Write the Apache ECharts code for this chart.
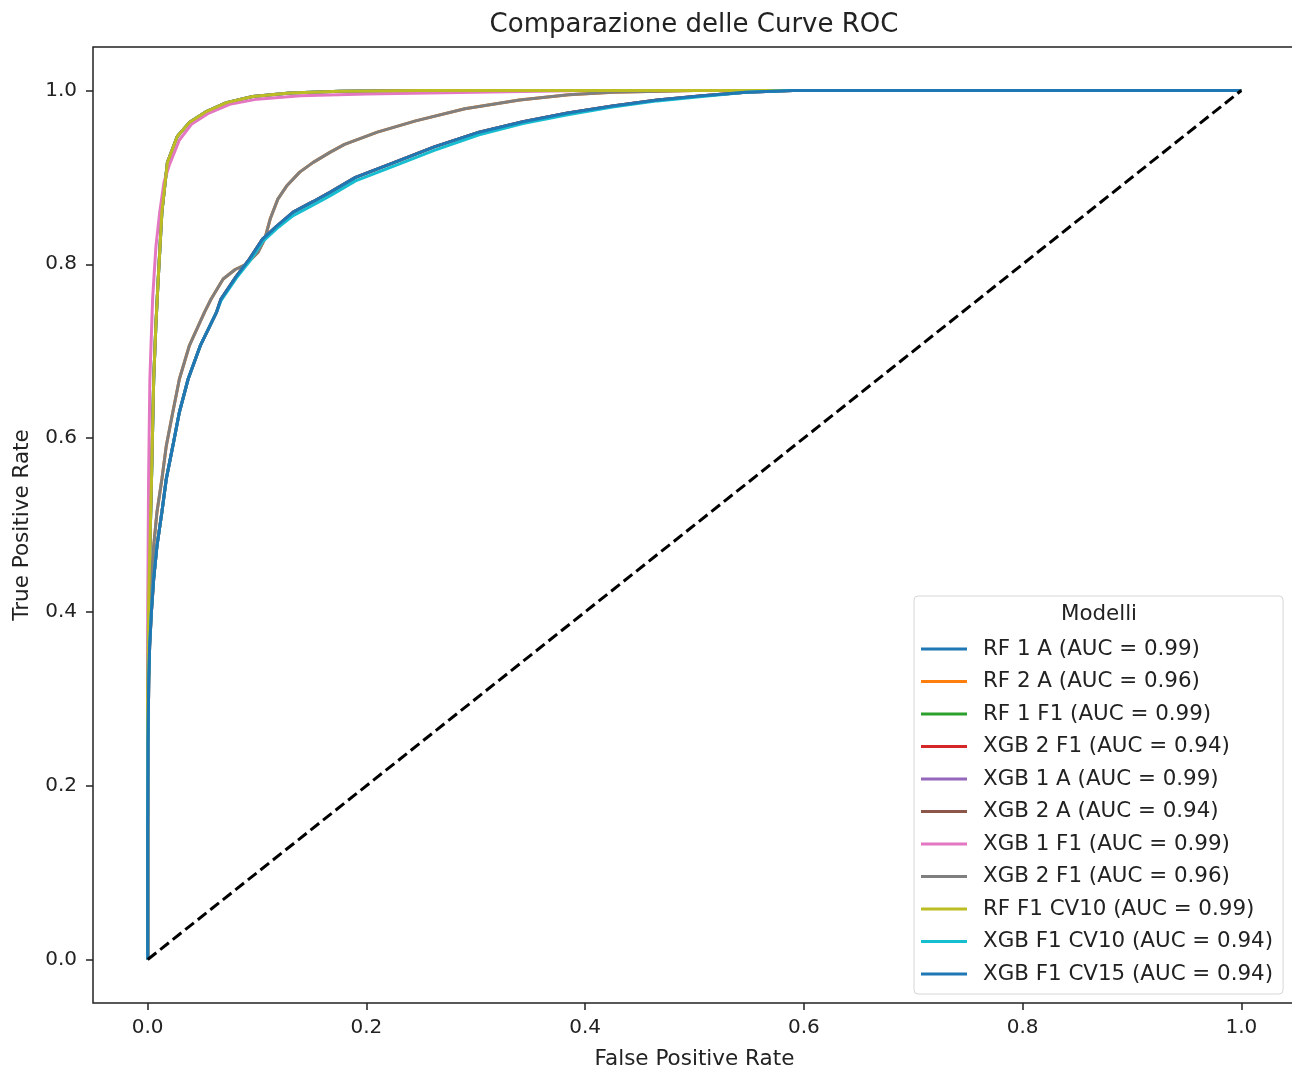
<!DOCTYPE html>
<html>
<head>
<meta charset="utf-8">
<title>Comparazione delle Curve ROC</title>
<script src="https://cdn.jsdelivr.net/npm/echarts@6/dist/echarts.min.js"></script>
<style>
  html, body { margin: 0; padding: 0; background: #fff; }
  #roc { width: 1292px; height: 1068px; }
</style>
</head>
<body>
<div id="roc"></div>
<script>
// 刻度
const tickVals = [0, 0.2, 0.4, 0.6, 0.8, 1.0]

// 模型名称 (图例顺序)
const modelNames = [
  "RF 1 A (AUC = 0.99)",
  "RF 2 A (AUC = 0.96)",
  "RF 1 F1 (AUC = 0.99)",
  "XGB 2 F1 (AUC = 0.94)",
  "XGB 1 A (AUC = 0.99)",
  "XGB 2 A (AUC = 0.94)",
  "XGB 1 F1 (AUC = 0.99)",
  "XGB 2 F1 (AUC = 0.96)",
  "RF F1 CV10 (AUC = 0.99)",
  "XGB F1 CV10 (AUC = 0.94)",
  "XGB F1 CV15 (AUC = 0.94)",
]

// ROC 曲线 - AUC 0.99 组
const topFpr = [0, 0, 0.001, 0.0025, 0.0035, 0.0055, 0.0075, 0.0095, 0.013, 0.018, 0.027, 0.038, 0.054, 0.072, 0.096, 0.13, 0.176, 0.25, 1.0]
const topTpr = [0, 0.30, 0.42, 0.50, 0.553, 0.668, 0.73, 0.78, 0.86, 0.917, 0.947, 0.963, 0.976, 0.986, 0.993, 0.997, 0.999, 1.0, 1.0]

// XGB 1 F1
const pinkFpr = [0, 0, 0.0008, 0.002, 0.0045, 0.0075, 0.011, 0.015, 0.02, 0.029, 0.04, 0.056, 0.075, 0.1, 0.14, 0.2, 0.3, 0.4, 1.0]
const pinkTpr = [0, 0.40, 0.55, 0.668, 0.76, 0.82, 0.86, 0.895, 0.915, 0.943, 0.961, 0.974, 0.984, 0.99, 0.994, 0.996, 0.998, 1.0, 1.0]

// AUC 0.96 组
const midFpr = [0, 0, 0.0003, 0.001, 0.0018, 0.0034, 0.0055, 0.0085, 0.013, 0.017, 0.023, 0.029, 0.038, 0.052, 0.058, 0.069, 0.080, 0.090, 0.101, 0.107, 0.112, 0.119, 0.127, 0.139, 0.151, 0.167, 0.18, 0.21, 0.245, 0.29, 0.34, 0.385, 0.425, 0.5, 1.0]
const midTpr = [0, 0.25, 0.323, 0.361, 0.40, 0.438, 0.476, 0.515, 0.553, 0.591, 0.63, 0.668, 0.706, 0.745, 0.76, 0.783, 0.794, 0.80, 0.814, 0.829, 0.852, 0.875, 0.89, 0.906, 0.917, 0.929, 0.938, 0.952, 0.965, 0.979, 0.989, 0.995, 0.998, 1.0, 1.0]

// AUC 0.94 组
const lowFpr = [0, 0, 0.0003, 0.001, 0.0018, 0.0034, 0.0055, 0.0085, 0.013, 0.017, 0.023, 0.029, 0.037, 0.048, 0.063, 0.067, 0.081, 0.093, 0.105, 0.118, 0.133, 0.151, 0.167, 0.19, 0.225, 0.262, 0.303, 0.343, 0.384, 0.425, 0.466, 0.507, 0.547, 0.59, 1.0]
const lowTpr = [0, 0.15, 0.25, 0.323, 0.361, 0.40, 0.438, 0.476, 0.515, 0.553, 0.591, 0.63, 0.668, 0.706, 0.745, 0.76, 0.786, 0.806, 0.829, 0.844, 0.86, 0.872, 0.883, 0.9, 0.917, 0.935, 0.952, 0.964, 0.974, 0.982, 0.989, 0.994, 0.998, 1.0, 1.0]

// XGB F1 CV10
const cyanFpr = [0, 0, 0.0003, 0.001, 0.0018, 0.0034, 0.0055, 0.0085, 0.013, 0.017, 0.023, 0.029, 0.037, 0.048, 0.063, 0.067, 0.081, 0.093, 0.105, 0.118, 0.133, 0.151, 0.167, 0.19, 0.225, 0.262, 0.303, 0.343, 0.384, 0.425, 0.466, 0.507, 0.547, 0.59, 1.0]
const cyanTpr = [0, 0.15, 0.25, 0.323, 0.361, 0.40, 0.438, 0.476, 0.515, 0.553, 0.591, 0.63, 0.668, 0.706, 0.745, 0.758, 0.784, 0.803, 0.826, 0.841, 0.856, 0.868, 0.879, 0.896, 0.913, 0.931, 0.949, 0.962, 0.972, 0.981, 0.988, 0.993, 0.998, 1.0, 1.0]

// 随机分类器对角线
const diagFpr = [0, 1]
const diagTpr = [0, 1]

// 每个模型用哪条曲线
const curves = {
  top: [topFpr, topTpr],
  pink: [pinkFpr, pinkTpr],
  mid: [midFpr, midTpr],
  low: [lowFpr, lowTpr],
  cyan: [cyanFpr, cyanTpr],
}
const modelCurve = ["top", "mid", "top", "low", "top", "low", "pink", "mid", "top", "cyan", "low"]

// matplotlib tab10
const colors = ["#1f77b4", "#ff7f0e", "#2ca02c", "#d62728", "#9467bd", "#8c564b", "#e377c2", "#7f7f7f", "#bcbd22", "#17becf", "#1f77b4"]

const font = "DejaVu Sans"
const ink = "#222"

function pairs(xs, ys) {
  return xs.map((x, i) => [x, ys[i]])
}

const series = modelNames.map((name, i) => {
  const c = curves[modelCurve[i]]
  return {
    name: name,
    type: "line",
    data: pairs(c[0], c[1]),
    showSymbol: false,
    symbol: "none",
    color: colors[i],
    lineStyle: { width: 3, color: colors[i] },
    animation: false,
  }
})
series.push({
  type: "line",
  data: pairs(diagFpr, diagTpr),
  showSymbol: false,
  symbol: "none",
  lineStyle: { width: 3, color: "#000", type: [11, 5] },
  animation: false,
})

const chart = echarts.init(document.getElementById("roc"))

const axisCommon = {
  type: "value",
  min: -0.05,
  max: 1.05,
  nameLocation: "middle",
  nameTextStyle: { fontFamily: font, fontSize: 21.5, color: ink },
  axisLine: { show: false, onZero: false },
  axisTick: {
    show: true,
    inside: false,
    customValues: tickVals,
    length: 7,
    lineStyle: { color: "#222", width: 1.5 },
  },
  axisLabel: {
    customValues: tickVals,
    fontFamily: font,
    fontSize: 20,
    color: ink,
    formatter: (v) => v.toFixed(1),
  },
  splitLine: { show: false },
}

const option = {
  backgroundColor: "#fff",
  animation: false,
  grid: {
    left: 93,
    top: 47,
    width: 1203,
    height: 956,
    outerBoundsMode: "none",
    containLabel: false,
    show: true,
    borderColor: "#222",
    borderWidth: 1.5,
    backgroundColor: "transparent",
  },
  xAxis: Object.assign({}, axisCommon, {
    name: "False Positive Rate",
    nameGap: 45,
    axisLabel: Object.assign({}, axisCommon.axisLabel, { margin: 15 }),
  }),
  yAxis: Object.assign({}, axisCommon, {
    name: "True Positive Rate",
    nameGap: 60,
    axisLabel: Object.assign({}, axisCommon.axisLabel, { margin: 16 }),
  }),
  legend: {
    orient: "vertical",
    left: 914,
    top: 596,
    data: modelNames,
    icon: "rect",
    itemWidth: 46,
    itemHeight: 3,
    itemGap: 10.5,
    padding: [42, 10, 9, 7],
    backgroundColor: "rgba(255,255,255,0.85)",
    borderColor: "#d6d6d6",
    borderWidth: 1,
    borderRadius: 4,
    selectedMode: false,
    textStyle: {
      fontFamily: font,
      fontSize: 21.4,
      color: ink,
      lineHeight: 22,
      padding: [0, 0, 0, 11],
    },
  },
  graphic: [
    {
      type: "text",
      z: 100,
      style: {
        x: 694,
        y: 25,
        text: "Comparazione delle Curve ROC",
        fontFamily: font,
        fontSize: 26,
        fill: ink,
        textAlign: "center",
        textVerticalAlign: "middle",
      },
    },
    {
      type: "text",
      z: 100,
      style: {
        x: 1099,
        y: 614,
        text: "Modelli",
        fontFamily: font,
        fontSize: 21.4,
        fill: ink,
        textAlign: "center",
        textVerticalAlign: "middle",
      },
    },
  ],
  series: series,
}

chart.setOption(option)
</script>
</body>
</html>
